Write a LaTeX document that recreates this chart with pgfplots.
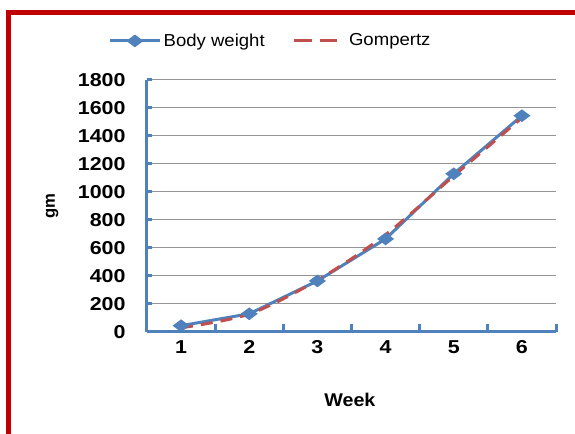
\documentclass[border=0pt]{standalone}
\usepackage{fontspec}
\setmainfont{Liberation Sans}
\newfontfamily\widefont[FakeStretch=1.15]{Liberation Sans}
\newfontfamily\midfont[FakeStretch=1.07]{Liberation Sans}
\usepackage{pgfplots}
\pgfplotsset{compat=1.18}
\definecolor{xlblue}{HTML}{4F81BD}
\definecolor{xlred}{HTML}{C0504D}
\definecolor{framered}{HTML}{C00000}
\pgfplotsset{
  bwleg/.style={legend image code/.code={\draw[mark repeat=2,mark phase=2,##1] plot coordinates {(0pt,0pt) (18.5pt,0pt) (37pt,0pt)};}},
  gzleg/.style={legend image code/.code={\draw[##1, dash pattern=on 13pt off 6pt] (0pt,0pt) -- (32pt,0pt);}},
}
\begin{document}
\begin{tikzpicture}
\path[use as bounding box] (0pt,0pt) rectangle (431.25pt,325.5pt);
\clip (0pt,0pt) rectangle (431.25pt,325.5pt);
\draw[framered, line width=3.4pt] (6.4pt,-20pt) -- (6.4pt,316.1pt) -- (460pt,316.1pt);
\begin{axis}[
  at={(110.25pt,76.5pt)}, anchor=south west,
  scale only axis, width=306.75pt, height=189pt,
  xmin=0.5, xmax=6.5, ymin=0, ymax=1800,
  axis lines*=left,
  axis line style={xlblue, line width=2.25pt},
  tick style={xlblue, line width=2.25pt},
  minor tick style={xlblue, line width=2.25pt},
  xtick={1,...,6},
  major x tick style={draw=none},
  minor xtick={0.5,1.5,2.5,3.5,4.5,5.5,6.5},
  minor tick length=6pt,
  ytick={0,200,...,1800},
  major tick length=4pt,
  tick align=inside,
  ymajorgrids,
  grid style={draw=black!42, line width=0.75pt},
  /pgf/number format/assume math mode=true,
  /pgf/number format/1000 sep={},
  tick label style={font=\widefont\fontsize{14}{16}\selectfont\bfseries},
  yticklabel style={xshift=-12.5pt},
  xticklabel style={yshift=-3pt},
  xlabel={Week}, ylabel={gm},
  xlabel style={font=\midfont\fontsize{13.8}{16}\selectfont\bfseries, at={(axis description cs:0.496,-0.27)}, anchor=center},
  ylabel style={font=\fontsize{12.5}{14}\selectfont\bfseries, at={(axis description cs:-0.232,0.5)}, anchor=center, rotate=0},
  legend columns=2,
  legend style={at={(0.303,1.155)}, anchor=center, draw=none, fill=none,
    font=\midfont\fontsize{13}{15}\selectfont,
    /tikz/every even column/.append style={column sep=19pt},
    /tikz/every odd column/.append style={column sep=0pt}},
]
\addplot[xlblue, line width=2.25pt, mark=diamond*, mark size=4.5pt, mark options={rotate=90, solid}, bwleg]
  coordinates {(1,45) (2,130) (3,365) (4,665) (5,1130) (6,1545)};
\addlegendentry{Body weight}
\addplot[xlred, line width=2.25pt, dash pattern=on 9pt off 6pt, smooth, gzleg]
  coordinates {(1,30) (2,128) (3,370) (4,695) (5,1115) (6,1530)};
\addlegendentry{\hspace{6pt}Gompertz}
\end{axis}
\end{tikzpicture}
\end{document}
